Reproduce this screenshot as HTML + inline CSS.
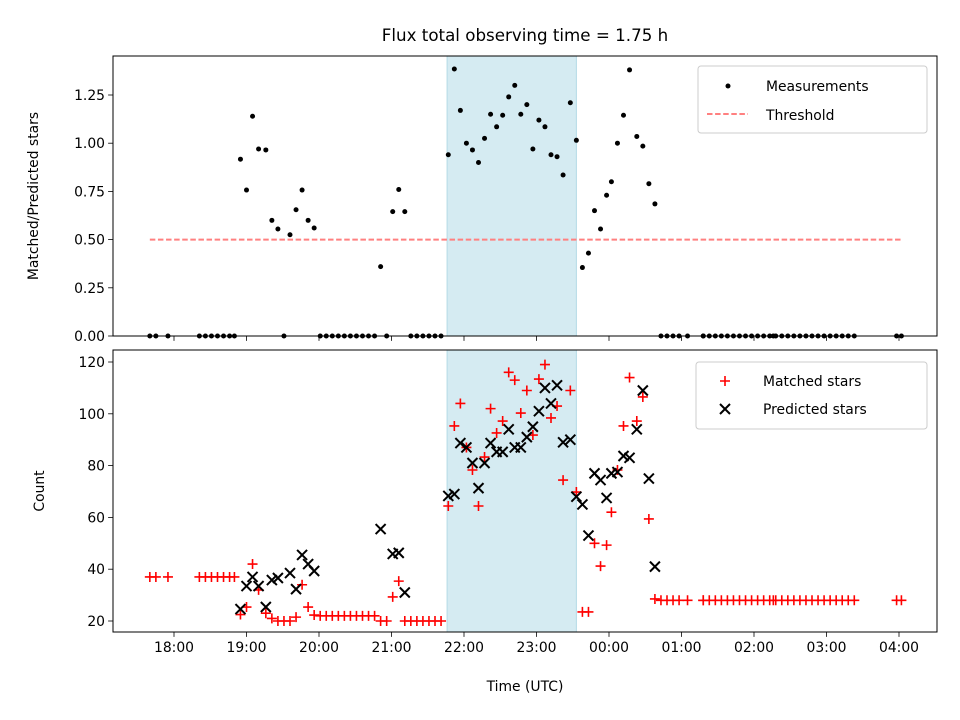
<!DOCTYPE html>
<html><head><meta charset="utf-8"><style>
html,body{margin:0;padding:0;background:#fff;}
svg{display:block;font-family:"DejaVu Sans","Liberation Sans",sans-serif;}
</style></head><body>
<svg id="chart" width="960" height="720" viewBox="0 0 960 720" xmlns="http://www.w3.org/2000/svg">
<rect width="960" height="720" fill="#fff"/>
<text x="525" y="41" font-size="16.7" text-anchor="middle">Flux total observing time = 1.75 h</text>
<g id="topAxes"></g>
<g id="botAxes"></g>
<text transform="translate(38,196) rotate(-90)" font-size="13.9" text-anchor="middle">Matched/Predicted stars</text>
<text transform="translate(44,491) rotate(-90)" font-size="13.9" text-anchor="middle">Count</text>
<text x="525" y="691" font-size="13.9" text-anchor="middle">Time (UTC)</text>
<g>
<rect x="698" y="66" width="229" height="67" rx="3" fill="#fff" fill-opacity="0.8" stroke="#ccc" stroke-width="1"/>
<circle cx="728" cy="86" r="2.5" fill="#000"/>
<text x="766" y="91" font-size="13.9">Measurements</text>
<line x1="707" y1="114" x2="748" y2="114" stroke="#ff8080" stroke-width="2" stroke-dasharray="5.5,2.6"/>
<text x="766" y="120" font-size="13.9">Threshold</text>
</g>
<g>
<rect x="696" y="362" width="231" height="67" rx="3" fill="#fff" fill-opacity="0.8" stroke="#ccc" stroke-width="1"/>
<path d="M720,381h10M725,376v10" stroke="#f00" stroke-width="1.6"/>
<text x="763" y="386" font-size="13.9">Matched stars</text>
<path d="M720,404l10,10M730,404l-10,10" stroke="#000" stroke-width="2"/>
<text x="763" y="414" font-size="13.9">Predicted stars</text>
</g>
</svg>
<script>
// times in minutes after 18:00 UTC
const times=[-20,-15,-5,21,26,31,36,41,46,50,55,60,65,70,76,81,86,91,96,101,106,111,116,121,126,131,136,141,146,151,156,161,166,171,176,181,186,191,196,201,206,211,216,221,227,232,237,242,247,252,257,262,267,272,277,282,287,292,297,302,307,312,317,322,328,333,338,343,348,353,358,362,367,372,377,383,388,393,398,
403,408,413,418,425,438,438,
443,448,453,458,463,468,473,
478,483,488,493,496,498,503,
508,513,518,523,528,533,538,
543,548,553,558,563,598,602];
const ratio=[0,0,0,0,0,0,0,0,0,0,.917,.757,1.14,.97,.965,.60,.555,0,.525,.655,.757,.60,.56,0,0,0,0,0,0,0,0,0,0,.36,0,.645,.76,.645,0,0,0,0,0,0,.94,1.385,1.17,1.0,.965,.90,1.025,1.15,1.085,1.145,1.24,1.30,1.15,1.20,.97,1.12,1.085,.94,.93,.835,1.21,1.015,.355,.43,.65,.555,.73,.80,1.0,1.145,1.38,1.035,.985,.79,.685,
0,0,0,0,0,0,0,
0,0,0,0,0,0,0,
0,0,0,0,0,0,0,
0,0,0,0,0,0,0,
0,0,0,0,0,0,0];
const matched=[37,37,37,37,37,37,37,37,37,37,22.5,25.4,42,32,23,21,20,20,20,21.5,34,25.4,22.3,22,22,22,22,22,22,22,22,22,22,20,20,29.3,35.4,20,20,20,20,20,20,20,64.4,95.3,104,87,78.3,64.4,83.3,102,92.6,97.2,116,113,100.3,109,91.8,113.4,119,98.4,103,74.4,109,69.8,23.5,23.5,50,41.2,49.3,62,78.3,95.3,114,97.2,106.5,59.4,28.5,
28,28,28,28,28,28,28,
28,28,28,28,28,28,28,
28,28,28,28,28,28,28,
28,28,28,28,28,28,28,
28,28,28,28,28,28,28];
const predicted=[null,null,null,null,null,null,null,null,null,null,24.6,33.5,37,33.5,25.4,35.8,36.6,null,38.5,32.3,45.5,42,39.3,null,null,null,null,null,null,null,null,null,null,55.5,null,45.9,46.3,31,null,null,null,null,null,null,68.3,69,88.7,87,81,71.3,81,88.7,85.3,85.3,94,87,87,91,95,101,110,104,111,89,90,68,65,53,77,74.4,67.5,77,77.5,83.7,83,94,109,75,41,
null,null,null,null,null,null,null,
null,null,null,null,null,null,null,
null,null,null,null,null,null,null,
null,null,null,null,null,null,null,
null,null,null,null,null,null,null];
const xTickLabels=["18:00","19:00","20:00","21:00","22:00","23:00","00:00","01:00","02:00","03:00","04:00"];
const topYTicks=[0,0.25,0.5,0.75,1.0,1.25];
const botYTicks=[20,40,60,80,100,120];
const threshold=[0.5];
const thresholdRange=[-20,602];
const spanRange=[226,333];

const NS="http://www.w3.org/2000/svg";
const L=113,R=937,TT=56,TB=336,BT=350,BB=632;
function xs(t){return 174+t*72.5/60;}
function yTop(v){return 336-v*192.8;}
function yBot(v){return 621-(v-20)*2.59;}
function mk(tag,attrs,parent){const e=document.createElementNS(NS,tag);for(const k in attrs)e.setAttribute(k,attrs[k]);parent.appendChild(e);return e;}
const gTop=document.getElementById('topAxes'),gBot=document.getElementById('botAxes');

[[gTop,TT,TB,'top'],[gBot,BT,BB,'bottom']].forEach(([g,t,b,nm])=>{
  const s=mk('rect',{x:xs(spanRange[0]),y:t,width:xs(spanRange[1])-xs(spanRange[0]),height:b-t,fill:'#d5ebf2',stroke:'#b3dae6','stroke-width':1},g);
  
  
});

const th=mk('line',{x1:xs(thresholdRange[0]),x2:xs(thresholdRange[1]),y1:yTop(threshold[0]),y2:yTop(threshold[0]),stroke:'#ff8080','stroke-width':2,'stroke-dasharray':'5.5,2.6'},gTop);



times.forEach((t,i)=>{
  if(ratio[i]===undefined)return;
  const c=mk('circle',{cx:xs(t),cy:yTop(ratio[i]),r:2.5,fill:'#000'},gTop);
  
  
});
times.forEach((t,i)=>{
  if(matched[i]===undefined||matched[i]===null)return;
  const x=xs(t),y=yBot(matched[i]);
  const p=mk('path',{d:`M${x-5},${y}h10M${x},${y-5}v10`,stroke:'#f00','stroke-width':1.6,fill:'none'},gBot);
  
  
});
times.forEach((t,i)=>{
  if(predicted[i]===null||predicted[i]===undefined)return;
  const x=xs(t),y=yBot(predicted[i]);
  const p=mk('path',{d:`M${x-5},${y-5}l10,10M${x+5},${y-5}l-10,10`,stroke:'#000','stroke-width':2,fill:'none'},gBot);
  
  
});

[[gTop,TT,TB],[gBot,BT,BB]].forEach(([g,t,b],k)=>{
  const f=mk('rect',{x:L,y:t,width:R-L,height:b-t,fill:'none',stroke:'#000','stroke-width':1},g);
  
  
  xTickLabels.forEach((lab,j)=>{
    const x=xs(j*60);
    mk('line',{x1:x,x2:x,y1:b,y2:b+4.9,stroke:'#000','stroke-width':0.8},g);
    if(k){
      const tx=mk('text',{x:x,y:b+20,'font-size':13.9,'text-anchor':'middle'},g);
      tx.textContent=lab;
      
      
    }
  });
});
topYTicks.forEach(v=>{
  const y=yTop(v);
  mk('line',{x1:L-4.9,x2:L,y1:y,y2:y,stroke:'#000','stroke-width':0.8},gTop);
  const tx=mk('text',{x:L-8,y:y+5,'font-size':13.9,'text-anchor':'end'},gTop);
  tx.textContent=v.toFixed(2);
  
  
});
botYTicks.forEach(v=>{
  const y=yBot(v);
  mk('line',{x1:L-4.9,x2:L,y1:y,y2:y,stroke:'#000','stroke-width':0.8},gBot);
  const tx=mk('text',{x:L-8,y:y+5,'font-size':13.9,'text-anchor':'end'},gBot);
  tx.textContent=String(v);
  
  
});
</script>
</body></html>
